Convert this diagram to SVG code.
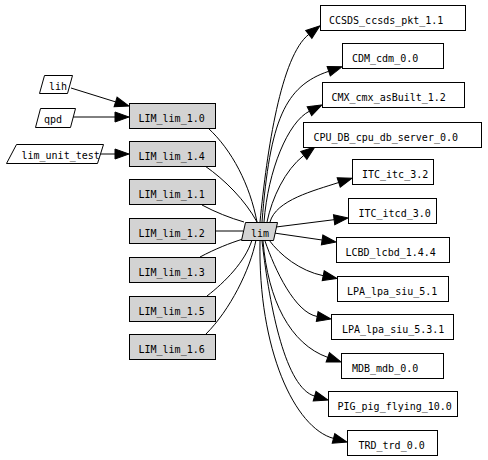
<svg xmlns="http://www.w3.org/2000/svg" width="488" height="460" viewBox="0 0 488 460">
<style>
  .n rect, .n polygon { stroke: #000; stroke-width: 1; }
  .w rect, .w polygon { fill: #fff; }
  .g rect, .g polygon { fill: #d3d3d3; }
  text { font-family: "DejaVu Sans Mono", "Liberation Mono", monospace; font-size: 10px; fill: #000; }
  .e path { fill: none; stroke: #000; stroke-width: 1; }
  .a path { marker-end: url(#ah); }
</style>
<defs>
  <marker id="ah" markerUnits="userSpaceOnUse" markerWidth="14" markerHeight="10" refX="0" refY="5" orient="auto" overflow="visible">
    <path d="M0,0 L14,5 L0,10 z" fill="#000" stroke="#000" stroke-width="1"/>
  </marker>
</defs>
<rect width="488" height="460" fill="#fff"/>

<g id="connectors" class="e">
  <g class="a">
    <path d="M71,88 L115.6,101.9"/>
    <path d="M72,117 L115,117"/>
    <path d="M99,154 L115,154"/>
    <path d="M260,222 C267,150 281,56 308.8,34.4"/>
    <path d="M262,222 C270,120 285,86 328.7,71.3"/>
    <path d="M264,222 C268,170 288,122 309.4,111.2"/>
    <path d="M267,222 C272,198 285,170 303.8,155.4"/>
    <path d="M270,222 C276,200 314,190.6 338.7,182.5"/>
    <path d="M276,227 L334.1,219.7"/>
    <path d="M274,233 L322.1,240"/>
    <path d="M269,240 C280,255 300,271 323.2,275.7"/>
    <path d="M265,241 C275,270 295,312.5 317.2,316.5"/>
    <path d="M263,241 C268,300 290,344 327.8,357.4"/>
    <path d="M262,241 C270,310 285.8,387.7 314.6,396.1"/>
    <path d="M260,241 C258,350 294.9,428.1 333.5,438.4"/>
  </g>
  <path d="M208,128 C232,150 250,185 257,222"/>
  <path d="M205,166 C225,180 245,200 257,222"/>
  <path d="M202,205 C215,212 230,218 244,222"/>
  <path d="M216,231 L243,231"/>
  <path d="M200,257 C215,249 230,243 243,239"/>
  <path d="M207,296 C225,282 245,262 252,240"/>
  <path d="M206,334 C230,310 250,270 256,240"/>
</g>

<g id="lih" class="n w"><polygon points="44.5,75.5 72.5,75.5 67.5,93.5 39.5,93.5"/><text x="49" y="89.5">lih</text></g>
<g id="qpd" class="n w"><polygon points="40.5,108.5 75.5,108.5 70.5,127.5 35.5,127.5"/><text x="44" y="123">qpd</text></g>
<g id="lim_unit_test" class="n w"><polygon points="16.5,144.5 103.5,144.5 97.5,163.5 6.5,163.5"/><text x="21.5" y="159">lim_unit_test</text></g>

<g id="LIM_lim_1.0" class="n g"><rect x="129.5" y="103.5" width="86" height="25"/><text x="138.5" y="121.5">LIM_lim_1.0</text></g>
<g id="LIM_lim_1.4" class="n g"><rect x="129.5" y="141.5" width="86" height="25"/><text x="138.5" y="159.5">LIM_lim_1.4</text></g>
<g id="LIM_lim_1.1" class="n g"><rect x="129.5" y="179.5" width="86" height="25"/><text x="138.5" y="197.5">LIM_lim_1.1</text></g>
<g id="LIM_lim_1.2" class="n g"><rect x="129.5" y="218.5" width="86" height="25"/><text x="138.5" y="236.5">LIM_lim_1.2</text></g>
<g id="LIM_lim_1.3" class="n g"><rect x="129.5" y="257.5" width="86" height="25"/><text x="138.5" y="275.5">LIM_lim_1.3</text></g>
<g id="LIM_lim_1.5" class="n g"><rect x="129.5" y="296.5" width="86" height="25"/><text x="138.5" y="314.5">LIM_lim_1.5</text></g>
<g id="LIM_lim_1.6" class="n g"><rect x="129.5" y="334.5" width="86" height="25"/><text x="138.5" y="352.5">LIM_lim_1.6</text></g>

<g id="lim" class="n g"><polygon points="245.5,222.5 277.5,222.5 273.5,240.5 241.5,240.5"/><text x="251" y="236.5">lim</text></g>

<g id="CCSDS_ccsds_pkt_1.1" class="n w"><rect x="320.5" y="5.5" width="145" height="25"/><text x="329" y="23.5">CCSDS_ccsds_pkt_1.1</text></g>
<g id="CDM_cdm_0.0" class="n w"><rect x="342.5" y="43.5" width="101" height="25"/><text x="352" y="61.5">CDM_cdm_0.0</text></g>
<g id="CMX_cmx_asBuilt_1.2" class="n w"><rect x="322.5" y="82.5" width="142" height="25"/><text x="331.5" y="100.5">CMX_cmx_asBuilt_1.2</text></g>
<g id="CPU_DB_cpu_db_server_0.0" class="n w"><rect x="303.5" y="122.5" width="178" height="25"/><text x="313.5" y="140.5">CPU_DB_cpu_db_server_0.0</text></g>
<g id="ITC_itc_3.2" class="n w"><rect x="352.5" y="159.5" width="81" height="25"/><text x="362" y="177.5">ITC_itc_3.2</text></g>
<g id="ITC_itcd_3.0" class="n w"><rect x="348.5" y="198.5" width="88" height="25"/><text x="358.5" y="216.5">ITC_itcd_3.0</text></g>
<g id="LCBD_lcbd_1.4.4" class="n w"><rect x="336.5" y="237.5" width="113" height="25"/><text x="345.5" y="255.5">LCBD_lcbd_1.4.4</text></g>
<g id="LPA_lpa_siu_5.1" class="n w"><rect x="337.5" y="276.5" width="111" height="25"/><text x="347" y="294.5">LPA_lpa_siu_5.1</text></g>
<g id="LPA_lpa_siu_5.3.1" class="n w"><rect x="331.5" y="314.5" width="122" height="25"/><text x="342" y="332.5">LPA_lpa_siu_5.3.1</text></g>
<g id="MDB_mdb_0.0" class="n w"><rect x="341.5" y="353.5" width="102" height="25"/><text x="352" y="371.5">MDB_mdb_0.0</text></g>
<g id="PIG_pig_flying_10.0" class="n w"><rect x="328.5" y="391.5" width="129" height="25"/><text x="337.5" y="409.5">PIG_pig_flying_10.0</text></g>
<g id="TRD_trd_0.0" class="n w"><rect x="347.5" y="430.5" width="90" height="25"/><text x="358.5" y="448.5">TRD_trd_0.0</text></g>
</svg>
